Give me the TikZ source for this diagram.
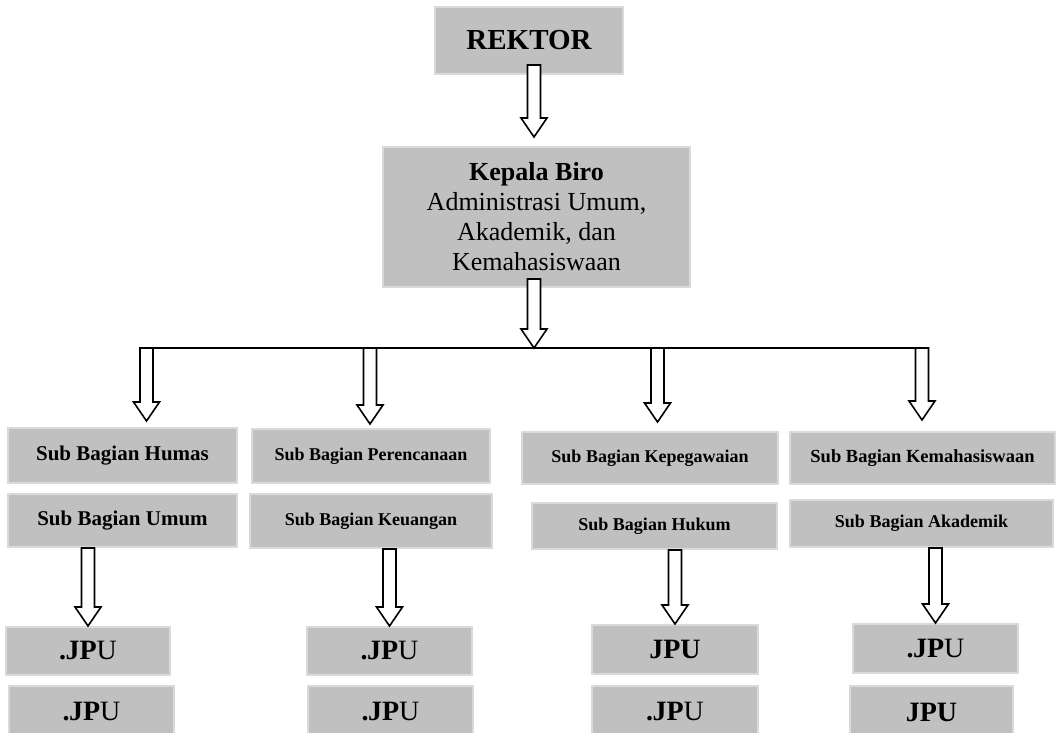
\documentclass[tikz,border=0pt]{standalone}
\usepackage{fontspec}
\setmainfont{Liberation Serif}
\usepackage{tikz}
\usetikzlibrary{calc}
\definecolor{boxgray}{HTML}{C0C0C0}
\definecolor{boxedge}{HTML}{DADADA}

\tikzset{
  unitbox/.style={fill=boxgray,draw=boxedge,line width=2pt,inner sep=0pt,align=center,font=\bfseries\fontsize{18}{20}\selectfont},
  bigbox/.style={unitbox,font=\bfseries\fontsize{21}{24}\selectfont},
  jpubox/.style={unitbox,font=\bfseries\fontsize{28}{30}\selectfont},
  hollow/.style={fill=white,draw=black,line width=1.6pt,line join=miter},
  busline/.style={line width=1.8pt}
}
% hollow block arrow, pointing down from #1 to #2
\newcommand{\blockarrow}[2]{%
  \draw[hollow] let \p1=#1, \p2=#2 in
    (\x1-6.5pt,\y1) -- (\x1-6.5pt,\y2+19pt) -- (\x1-13pt,\y2+19pt) -- (\x1,\y2)
    -- (\x1+13pt,\y2+19pt) -- (\x1+6.5pt,\y2+19pt) -- (\x1+6.5pt,\y1) -- cycle;}
\newcommand{\dotjpu}{{.\kern-0.5pt JP}\textmd{U}}

\begin{document}
\begin{tikzpicture}[x=1pt,y=-1pt]
\useasboundingbox (0,0) rectangle (1057,733);
\clip (0,0) rectangle (1057,733);
% top
\node[unitbox,font=\bfseries\fontsize{29}{32}\selectfont,minimum width=188pt,minimum height=67pt] (rektor) at (529,40.5) {REKTOR};
\node[unitbox,font=\fontsize{26}{30}\selectfont,minimum width=307pt,minimum height=140pt] (kepala) at (536.5,217)
  {\textbf{Kepala Biro}\\Administrasi Umum,\\Akademik, dan\\Kemahasiswaan};
% sub bagian
\node[bigbox,minimum width=229pt,minimum height=55pt] (humas) at (122.5,455.5) {Sub Bagian Humas};
\node[bigbox,minimum width=229pt,minimum height=53pt] (umum) at (122.5,520.5) {Sub Bagian Umum};
\node[unitbox,minimum width=238pt,minimum height=54pt] (perencanaan) at (371,456) {Sub Bagian Perencanaan};
\node[unitbox,minimum width=242pt,minimum height=54pt] (keuangan) at (371,521) {Sub Bagian Keuangan};
\node[unitbox,minimum width=256pt,minimum height=52pt] (kepegawaian) at (650,458) {Sub Bagian Kepegawaian};
\node[unitbox,minimum width=245pt,minimum height=46pt] (hukum) at (654.5,526) {Sub Bagian Hukum};
\node[unitbox,font=\bfseries\fontsize{18.5}{20}\selectfont,minimum width=265pt,minimum height=52pt] (kemahasiswaan) at (922.5,458) {Sub Bagian Kemahasiswaan};
\node[unitbox,minimum width=263pt,minimum height=47pt] (akademik) at (921.5,523.5) {Sub Bagian Akademik};
% jpu
\node[jpubox,minimum width=164pt,minimum height=48pt] (jpuA1) at (88,651) {\dotjpu};
\node[jpubox,minimum width=165pt,minimum height=52pt] (jpuA2) at (91.5,712) {\dotjpu};
\node[jpubox,minimum width=165pt,minimum height=48pt] (jpuB1) at (389.5,651) {\dotjpu};
\node[jpubox,minimum width=165pt,minimum height=52pt] (jpuB2) at (390.5,712) {\dotjpu};
\node[jpubox,minimum width=166pt,minimum height=49pt] (jpuC1) at (675,649.5) {JPU};
\node[jpubox,minimum width=166pt,minimum height=52pt] (jpuC2) at (675,712) {\dotjpu};
\node[jpubox,minimum width=165pt,minimum height=49pt] (jpuD1) at (935.5,648.5) {\dotjpu};
\node[jpubox,minimum width=163pt,minimum height=52pt] (jpuD2) at (931.5,712) {JPU};
% bus
\coordinate (hub) at (534,348);
\coordinate (busA) at (146.5,348);
\coordinate (busB) at (370,348);
\coordinate (busC) at (657.5,348);
\coordinate (busD) at (922,348);
\draw[busline] (busA) -- (busD);
\blockarrow{($(rektor.south -| hub)+(0,-10)$)}{($(kepala.north -| hub)+(0,-9)$)}
\blockarrow{($(kepala.south -| hub)+(0,-9)$)}{(hub)}
\blockarrow{(busA)}{($(busA |- humas.north)+(0,-6)$)}
\blockarrow{(busB)}{($(busB |- perencanaan.north)+(0,-4)$)}
\blockarrow{(busC)}{($(busC |- kepegawaian.north)+(0,-9)$)}
\blockarrow{(busD)}{($(busD |- kemahasiswaan.north)+(0,-11)$)}
\blockarrow{(umum.south -| jpuA1)}{(jpuA1.north)}
\blockarrow{(keuangan.south -| jpuB1)}{(jpuB1.north)}
\blockarrow{(hukum.south -| jpuC1)}{(jpuC1.north)}
\blockarrow{(akademik.south -| jpuD1)}{(jpuD1.north)}
\end{tikzpicture}
\end{document}
